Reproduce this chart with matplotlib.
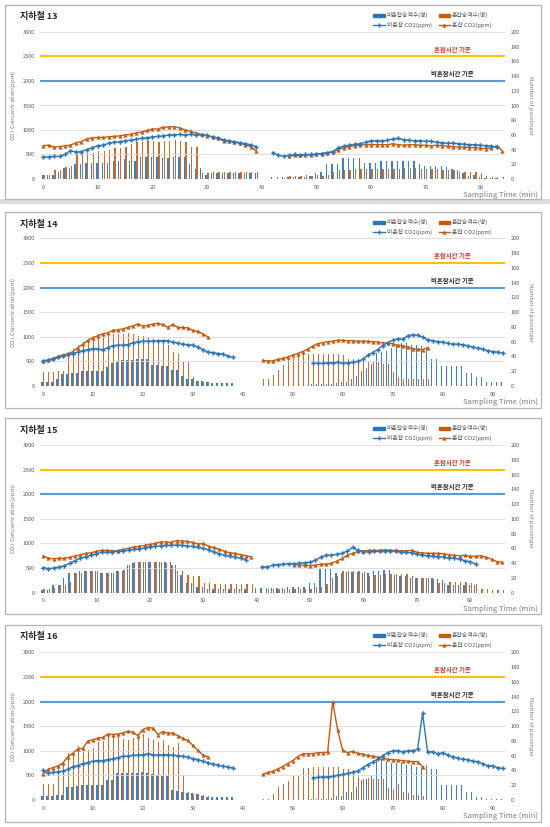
import numpy as np
import matplotlib
matplotlib.use('Agg')
import matplotlib.pyplot as plt
import matplotlib.transforms as mtransforms
from matplotlib.patches import Rectangle, Patch
from matplotlib.lines import Line2D

plt.rcParams['font.family'] = ['Noto Sans CJK KR', 'DejaVu Sans']

# CO2 (ppm) and passenger counts, keyed by the start minute of each measured run
co2_low_13 = {0: [450, 450, 460, 460, 500, 580, 550, 560, 600, 640, 680, 690, 730, 750, 760, 780, 790, 810, 830, 840,
                  860, 870, 880, 900, 900, 910, 900, 910, 900, 900, 890, 860, 840, 800, 780, 760, 740, 720, 700, 660],
              42: [540, 490, 460, 480, 500, 490, 500, 500, 510, 520, 540, 560, 640, 670, 690, 710, 720, 750, 780, 780,
                   780, 790, 820, 830, 800, 790, 780, 780, 770, 770, 750, 740, 730, 730, 720, 710, 700, 700, 690, 680,
                   670, 650]}
co2_high_13 = {0: [680, 690, 650, 660, 680, 690, 740, 760, 820, 840, 850, 850, 860, 870, 880, 900, 910, 940, 960, 990,
                   1020, 1020, 1060, 1060, 1070, 1040, 1000, 970, 940, 910, 880, 860, 830, 780, 770, 750, 730, 700, 660, 570],
               45: [470, 480, 480, 490, 490, 500, 520, 530, 550, 600, 640, 660, 680, 690, 700, 700, 700, 700, 700, 720,
                    700, 690, 700, 700, 690, 690, 680, 690, 680, 670, 660, 650, 650, 640, 640, 630, 620, 630, 680, 580]}
pax_low_13 = {0: [5, 5, 5, 10, 15, 15, 20, 20, 22, 22, 22, 22, 22, 25, 25, 27, 25, 25, 30, 30,
                  30, 30, 29, 28, 30, 30, 30, 20, 14, 15, 5, 8, 8, 8, 8, 8, 8, 8, 8, 8],
              42: [3, 3, 3, 3, 3, 3, 3, 4, 8, 10, 20, 20, 20, 28, 28, 28, 28, 22, 22, 22,
                   24, 24, 25, 25, 25, 25, 25, 20, 18, 18, 18, 18, 16, 13, 12, 8, 4, 5, 3, 2, 2, 2]}
pax_high_13 = {0: [5, 5, 12, 12, 17, 18, 32, 35, 35, 35, 38, 38, 40, 42, 42, 44, 48, 50, 50, 52,
                   52, 50, 52, 52, 53, 52, 50, 44, 44, 8, 8, 9, 9, 9, 9, 9, 9, 9, 9, 9],
               44: [2, 4, 4, 4, 6, 4, 6, 4, 6, 10, 12, 12, 12, 14, 13, 14, 14, 14, 14, 14,
                    14, 14, 15, 15, 15, 14, 14, 14, 14, 12, 12, 12, 10, 10, 10, 9, 8, 4, 3, 3, 3]}

co2_low_14 = {0: [510, 520, 540, 580, 610, 640, 660, 690, 720, 740, 760, 750, 740, 780, 820, 830, 830, 840, 880, 900,
                  910, 910, 910, 920, 920, 920, 890, 870, 850, 840, 830, 790, 740, 690, 680, 660, 650, 610, 580],
              54: [460, 460, 460, 470, 470, 480, 460, 470, 480, 500, 540, 620, 680, 740, 820, 880, 930, 960, 950, 1020,
                   1040, 1030, 990, 940, 920, 900, 890, 870, 850, 850, 840, 820, 790, 770, 750, 720, 700, 690, 670]}
co2_high_14 = {0: [510, 530, 560, 600, 630, 650, 700, 780, 850, 930, 980, 1020, 1060, 1080, 1130, 1140, 1160, 1190, 1220, 1260,
                   1220, 1230, 1260, 1270, 1250, 1190, 1250, 1190, 1190, 1180, 1130, 1110, 1060, 1000],
               44: [520, 510, 510, 540, 560, 590, 630, 660, 700, 750, 810, 860, 880, 900, 910, 930, 930, 920, 920, 910,
                    910, 910, 900, 890, 880, 870, 860, 830, 820, 790, 760, 750, 740, 780]}
pax_low_14 = {0: [5, 5, 5, 10, 16, 16, 18, 18, 20, 20, 20, 20, 20, 26, 31, 32, 35, 35, 35, 36,
                  37, 37, 28, 28, 27, 27, 21, 21, 13, 10, 10, 7, 7, 5, 4, 4, 4, 4, 4],
              54: [3, 3, 3, 3, 3, 4, 5, 5, 9, 14, 20, 24, 30, 45, 46, 47, 52, 56, 58, 58,
                   56, 55, 54, 52, 36, 36, 27, 27, 27, 27, 27, 18, 18, 12, 12, 6, 6, 6, 6]}
pax_high_14 = {0: [19, 19, 19, 20, 20, 44, 50, 55, 60, 64, 68, 70, 71, 68, 70, 71, 71, 72, 70, 68,
                   68, 66, 64, 62, 60, 55, 46, 44, 32, 32, 12, 7, 6, 6],
               44: [9, 9, 15, 22, 28, 36, 38, 42, 43, 43, 43, 43, 43, 43, 43, 43, 42, 36, 36, 35,
                    34, 33, 33, 32, 30, 30, 19, 12, 9, 9, 9, 9, 9, 9]}

co2_low_15 = {0: [510, 490, 500, 520, 550, 600, 650, 700, 730, 760, 790, 820, 820, 830, 840, 850, 860, 880, 890, 910,
                  930, 940, 950, 960, 960, 970, 960, 950, 940, 920, 900, 870, 830, 790, 760, 740, 720, 700, 670],
              41: [530, 520, 560, 570, 580, 590, 590, 600, 610, 620, 660, 720, 760, 760, 780, 800, 850, 920, 860, 830,
                   830, 840, 840, 850, 850, 840, 830, 820, 810, 790, 760, 750, 740, 730, 720, 700, 700, 680, 650, 630, 580]}
co2_high_15 = {0: [750, 700, 690, 700, 700, 720, 750, 770, 800, 810, 840, 860, 860, 850, 850, 880, 900, 930, 940, 960,
                   980, 1000, 1030, 1030, 1020, 1060, 1050, 1040, 1020, 990, 1000, 940, 920, 880, 840, 810, 800, 770, 750, 730],
               47: [570, 560, 560, 550, 560, 580, 580, 600, 640, 700, 760, 800, 840, 850, 860, 860, 860, 870, 860, 860,
                    850, 850, 860, 820, 810, 800, 800, 800, 790, 770, 760, 750, 760, 740, 740, 750, 720, 680, 630, 620]}
pax_low_15 = {0: [3, 3, 10, 10, 20, 27, 27, 30, 30, 30, 30, 27, 26, 26, 30, 30, 38, 40, 41, 41,
                  41, 41, 41, 41, 41, 37, 24, 13, 13, 8, 8, 5, 5, 5, 5, 5, 5, 5, 5],
              40: [7, 7, 7, 7, 7, 7, 8, 8, 8, 8, 13, 13, 32, 32, 32, 26, 26, 28, 28, 28,
                   27, 27, 30, 30, 31, 31, 24, 22, 22, 20, 20, 20, 20, 20, 19, 17, 10, 10, 10, 10, 10, 10]}
pax_high_15 = {0: [5, 5, 6, 10, 10, 14, 26, 27, 29, 29, 29, 27, 27, 27, 30, 31, 38, 41, 41, 41,
                   41, 41, 41, 40, 38, 30, 30, 24, 22, 22, 13, 13, 12, 12, 12, 12, 12, 12, 12, 12],
               42: [5, 5, 5, 5, 5, 5, 5, 5, 5, 8, 8, 12, 20, 22, 30, 30, 30, 30, 28, 23,
                    24, 24, 25, 25, 25, 25, 25, 22, 20, 20, 20, 18, 13, 13, 14, 14, 14, 14, 13, 12,
                    5, 5, 4, 4, 4]}

co2_low_16 = {0: [600, 540, 560, 570, 590, 620, 680, 700, 740, 760, 790, 800, 800, 820, 840, 860, 890, 890, 910, 910,
                  920, 940, 920, 910, 920, 920, 910, 900, 890, 870, 840, 820, 790, 760, 730, 710, 690, 670, 650],
              54: [450, 460, 470, 470, 480, 500, 520, 540, 560, 590, 650, 720, 770, 830, 900, 960, 1000, 1000, 980, 1000,
                   1000, 1030, 1760, 980, 980, 940, 960, 920, 880, 850, 830, 820, 790, 780, 740, 700, 690, 660, 640]}
co2_high_16 = {0: [530, 620, 660, 690, 750, 880, 950, 1040, 1050, 1200, 1220, 1260, 1270, 1340, 1330, 1340, 1360, 1400, 1380, 1310,
                   1430, 1470, 1460, 1330, 1390, 1360, 1360, 1310, 1250, 1210, 1110, 1010, 920, 880],
               44: [520, 560, 580, 630, 680, 740, 800, 880, 940, 940, 940, 960, 960, 970, 2000, 1420, 1010, 960, 990, 950,
                    930, 910, 890, 870, 850, 830, 820, 810, 800, 790, 780, 780, 680]}
pax_low_16 = {0: [6, 6, 6, 7, 7, 18, 18, 19, 20, 20, 20, 20, 20, 27, 27, 36, 36, 36, 37, 37,
                  38, 37, 35, 34, 33, 33, 13, 12, 11, 10, 9, 8, 5, 4, 4, 4, 4, 4, 4],
              54: [2, 2, 2, 2, 3, 6, 6, 11, 11, 18, 27, 28, 32, 55, 55, 53, 50, 50, 50, 48,
                   47, 45, 45, 47, 42, 42, 20, 20, 20, 20, 20, 11, 11, 4, 4, 1, 1, 1, 1]}
pax_high_16 = {0: [21, 21, 21, 46, 50, 63, 65, 73, 72, 68, 70, 78, 80, 86, 86, 88, 82, 81, 84, 85,
                   90, 84, 81, 78, 81, 74, 72, 77, 34, 11, 8, 8, 7, 5],
               44: [1, 2, 8, 17, 22, 26, 33, 33, 43, 43, 45, 45, 45, 45, 45, 45, 42, 42, 41, 31,
                    29, 30, 29, 28, 28, 16, 15, 22, 11, 10, 7, 7, 5]}

titles = ["지하철 13", "지하철 14", "지하철 15", "지하철 16"]
n_minutes = [85, 93, 87, 93]
ref_congested = 2500
ref_normal = 2000

C_BLUE = '#2e75b6'
C_ORANGE = '#c55a11'
C_BLUE_BAR = '#3a82c4'
C_ORANGE_BAR = '#cc6a2a'


def build(n, parts):
    arr = np.full(n, np.nan)
    for start, vals in parts.items():
        arr[start:start + len(vals)] = vals
    return arr


W, H = 550, 827
fig = plt.figure(figsize=(W / 100, H / 100), dpi=100)


def fx(px):
    return px / W


def fy(py):
    return 1 - py / H


panel_top = [5, 212, 418, 625]
panel_bot = [199, 408, 614, 822]
ax_top = [32, 238.3, 445, 652.3]
ax_bot = [179, 386, 592.7, 800]

data = [(co2_low_13, co2_high_13, pax_low_13, pax_high_13),
        (co2_low_14, co2_high_14, pax_low_14, pax_high_14),
        (co2_low_15, co2_high_15, pax_low_15, pax_high_15),
        (co2_low_16, co2_high_16, pax_low_16, pax_high_16)]

# gray separator under first panel
fig.patches.append(Rectangle((0, fy(204)), 1, (204 - 199) / H, transform=fig.transFigure,
                             facecolor='#dcdcdc', edgecolor='none', zorder=-10))

tick_color = '#595959'

for i in range(4):
    n = n_minutes[i]
    low, high, plow, phigh = [build(n, d) for d in data[i]]
    t = np.arange(n)

    fig.patches.append(Rectangle((fx(5), fy(panel_bot[i])), fx(536), (panel_bot[i] - panel_top[i]) / H,
                                 transform=fig.transFigure, facecolor='none',
                                 edgecolor='#b4b4b4', linewidth=0.9, zorder=-5))

    rect = [fx(40.4), fy(ax_bot[i]), fx(464.6), (ax_bot[i] - ax_top[i]) / H]
    ax = fig.add_axes(rect)
    ax2 = ax.twinx()
    ax.set_zorder(ax2.get_zorder() + 1)
    ax.patch.set_visible(False)
    ax2.patch.set_visible(False)

    ax2.bar(t - 0.17, plow, width=0.25, color=C_BLUE_BAR, linewidth=0)
    ax2.bar(t + 0.17, phigh, width=0.25, color=C_ORANGE_BAR, linewidth=0)
    ax2.set_ylim(0, 200)
    ax2.set_yticks(np.arange(0, 201, 20))

    ax.axhline(ref_congested, color='#ffc000', lw=1.5, zorder=2)
    ax.axhline(ref_normal, color='#5b9bd5', lw=1.5, zorder=2)
    ax.plot(t, low, color=C_BLUE, lw=1.0, marker='P', ms=3.2, mew=0, zorder=4)
    ax.plot(t, high, color=C_ORANGE, lw=1.0, marker='^', ms=3.0, mew=0, zorder=3)
    ax.set_ylim(0, 3000)
    ax.set_yticks(np.arange(0, 3001, 500))
    ax.set_xlim(-0.5, n - 0.5)
    ax.set_xticks(np.arange(0, n, 10))
    ax.grid(axis='y', color='#d9d9d9', lw=0.6, zorder=0)
    ax.set_axisbelow(True)

    for a in (ax, ax2):
        for s in a.spines.values():
            s.set_visible(False)
        a.tick_params(length=0, labelsize=4, colors=tick_color)
    ax.tick_params(axis='y', pad=4)
    ax.tick_params(axis='x', pad=4)
    ax2.tick_params(axis='y', pad=4)

    tr = mtransforms.blended_transform_factory(ax.transAxes, ax.transData)
    ax.text(0.886, 2650, "혼잡시간 기준", transform=tr, ha='center', va='center',
            fontsize=4.6, fontweight='bold', color='#c0392b')
    ax.text(0.886, 2150, "비혼잡시간 기준", transform=tr, ha='center', va='center',
            fontsize=4.6, fontweight='bold', color='#262626')

    fig.text(fx(20), fy(panel_top[i] + 12), titles[i], ha='left', va='center',
             fontsize=6.5, fontweight='bold', color='#262626')
    mid = (ax_top[i] + ax_bot[i]) / 2
    fig.text(fx(13), fy(mid), "CO$_2$ Concentration(ppm)", rotation=90, ha='center', va='center',
             fontsize=4.3, color='#7f7f7f')
    fig.text(fx(531), fy(mid), "Number of passenger", rotation=-90, ha='center', va='center',
             fontsize=4.3, color='#7f7f7f')
    fig.text(fx(538), fy(ax_bot[i] + 16), "Sampling Time (min)", ha='right', va='center',
             fontsize=5.5, color='#7f7f7f')

    handles = [Patch(color=C_BLUE), Line2D([], [], color=C_BLUE, marker='P', ms=3, mew=0, lw=1),
               Patch(color=C_ORANGE), Line2D([], [], color=C_ORANGE, marker='^', ms=3, mew=0, lw=1)]
    labels = ["비혼잡승객수(명)", "비혼잡 CO2(ppm)", "혼잡승객수(명)", "혼잡 CO2(ppm)"]
    fig.legend(handles, labels, ncol=2, loc='upper left',
               bbox_to_anchor=(fx(368), fy(panel_top[i] + 2)), frameon=False,
               fontsize=4.2, handlelength=2.0, handleheight=0.5, handletextpad=0.3,
               columnspacing=1.2, labelspacing=0.6, labelcolor='#595959')

fig.savefig('out.png', dpi=100)
